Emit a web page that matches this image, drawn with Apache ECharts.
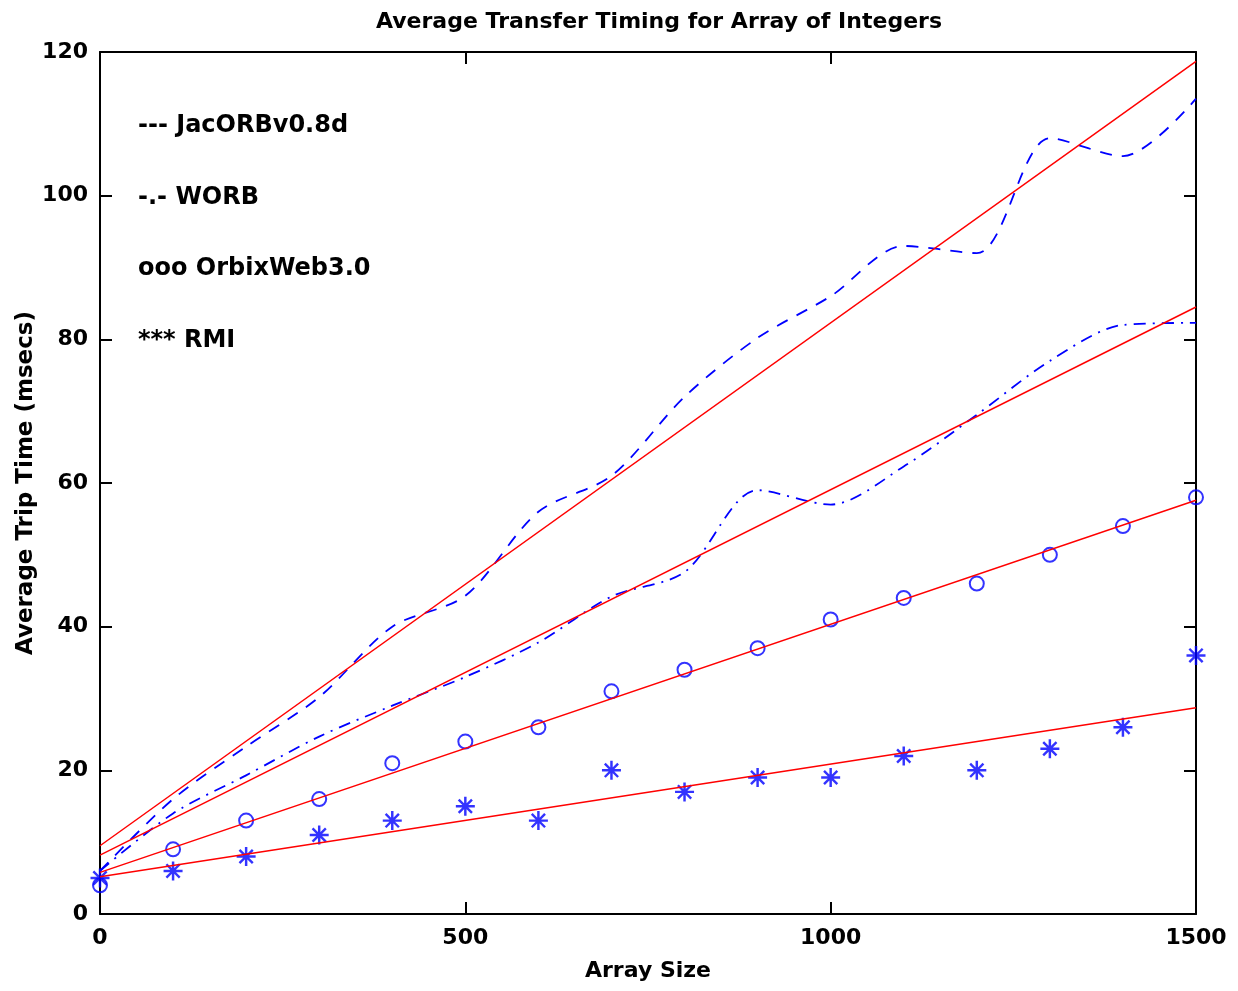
<!DOCTYPE html>
<html>
<head>
<meta charset="utf-8">
<title>Average Transfer Timing for Array of Integers</title>
<script src="https://cdn.jsdelivr.net/npm/echarts@6/dist/echarts.min.js"></script>
<style>
    html, body { margin: 0; padding: 0; background: #fff; }
    #timing { width: 1238px; height: 991px; }
</style>
</head>
<body>
<div id="timing"></div>
<script>
// array sizes (x) and average trip times in msecs
var sizes = [0, 100, 200, 300, 400, 500, 600, 700, 800, 900, 1000, 1100, 1200, 1300, 1400, 1500];
var jacorb = [6, 16, 23.3, 30.2, 40, 44.3, 56, 61, 72, 80.2, 86, 93, 92, 108, 105.5, 113.5];
var worb = [6, 14, 19.3, 24.7, 29, 33, 37.8, 44.2, 47.6, 59, 57, 62.3, 69.5, 77, 82, 82.3];
var orbix = [4, 9, 13, 16, 21, 24, 26, 31, 34, 37, 41, 44, 46, 50, 54, 58];
var rmi = [5, 6, 8, 11, 13, 15, 13, 20, 17, 19, 19, 22, 20, 23, 26, 36];

// ends of the red fitted lines
var fitX = [0, 1500];
var jacorbFit = [9.5, 118.7];
var worbFit = [8.2, 84.5];
var orbixFit = [5.8, 57.6];
var rmiFit = [5.2, 28.7];

var xTicks = [0, 500, 1000, 1500];
var yTicks = [0, 20, 40, 60, 80, 100, 120];

var legendLines = ['--- JacORBv0.8d', '-.- WORB', 'ooo OrbixWeb3.0', '*** RMI'];

function pairs(xs, ys) {
    var data = [];
    for (var i = 0; i < xs.length; i++) {
        data.push([xs[i], ys[i]]);
    }
    return data;
}

function fitSeries(ys) {
    return {
        type: 'line',
        data: pairs(fitX, ys),
        showSymbol: false,
        silent: true,
        z: 3,
        lineStyle: { color: '#ff0000', width: 1.5 }
    };
}

// asterisk marker: horizontal, vertical and two diagonal bars
var star = 'path://M0 8.7L20 8.7L20 11.3L0 11.3Z M8.7 0L11.3 0L11.3 20L8.7 20Z ' +
    'M3.9 2.1L17.9 16.1L16.1 17.9L2.1 3.9Z M16.1 2.1L17.9 3.9L3.9 17.9L2.1 16.1Z';

var font = 'DejaVu Sans';
var myChart = echarts.init(document.getElementById('timing'));

var legendTexts = [];
for (var i = 0; i < legendLines.length; i++) {
    legendTexts.push({
        type: 'text',
        left: 138,
        top: 114 + i * 71.5,
        style: {
            text: legendLines[i],
            fontFamily: font,
            fontSize: 24,
            fontWeight: 'bold',
            fill: '#000'
        }
    });
}

var boxAxis = {
    axisLine: { show: true, onZero: false, lineStyle: { color: '#000', width: 2 } },
    axisTick: { show: true, inside: true, length: 12, lineStyle: { color: '#000', width: 2 } },
    axisLabel: { show: false },
    splitLine: { show: false }
};

var option = {
    backgroundColor: '#fff',
    animation: false,
    title: {
        text: 'Average Transfer Timing for Array of Integers',
        left: 654,
        textAlign: 'center',
        top: 6,
        textStyle: {
            fontFamily: font,
            fontSize: 22,
            fontWeight: 'bold',
            color: '#000'
        }
    },
    graphic: legendTexts,
    grid: { left: 100, right: 42, top: 52, bottom: 77 },
    xAxis: [
        {
            type: 'value',
            min: 0,
            max: 1500,
            interval: 500,
            name: 'Array Size',
            nameLocation: 'middle',
            nameGap: 46,
            nameTextStyle: { fontFamily: font, fontSize: 22, fontWeight: 'bold', color: '#000' },
            axisLine: { show: true, onZero: false, lineStyle: { color: '#000', width: 2 } },
            axisTick: { show: true, inside: true, length: 12, lineStyle: { color: '#000', width: 2 } },
            axisLabel: {
                margin: 13,
                fontFamily: font,
                fontSize: 22,
                fontWeight: 'bold',
                color: '#000',
                formatter: function (v) { return xTicks.indexOf(v) >= 0 ? String(v) : ''; }
            },
            splitLine: { show: false }
        },
        Object.assign({ type: 'value', position: 'top', min: 0, max: 1500, interval: 500 }, boxAxis)
    ],
    yAxis: [
        {
            type: 'value',
            min: 0,
            max: 120,
            interval: 20,
            name: 'Average Trip Time (msecs)',
            nameLocation: 'middle',
            nameGap: 62,
            nameMoveOverlap: false,
            nameTextStyle: { fontFamily: font, fontSize: 23, fontWeight: 'bold', color: '#000' },
            axisLine: { show: true, onZero: false, lineStyle: { color: '#000', width: 2 } },
            axisTick: { show: true, inside: true, length: 12, lineStyle: { color: '#000', width: 2 } },
            axisLabel: {
                margin: 12,
                fontFamily: font,
                fontSize: 22,
                fontWeight: 'bold',
                color: '#000',
                formatter: function (v) { return yTicks.indexOf(v) >= 0 ? String(v) : ''; }
            },
            splitLine: { show: false }
        },
        Object.assign({ type: 'value', position: 'right', min: 0, max: 120, interval: 20 }, boxAxis)
    ],
    series: [
        {
            name: 'JacORBv0.8d',
            type: 'line',
            data: pairs(sizes, jacorb),
            smooth: 0.3,
            showSymbol: false,
            z: 2,
            lineStyle: { color: '#0000ff', width: 1.8, type: [12, 10] }
        },
        {
            name: 'WORB',
            type: 'line',
            data: pairs(sizes, worb),
            smooth: 0.3,
            showSymbol: false,
            z: 2,
            lineStyle: { color: '#0000ff', width: 1.8, type: [12, 7, 2, 7] }
        },
        {
            name: 'OrbixWeb3.0',
            type: 'scatter',
            data: pairs(sizes, orbix),
            symbol: 'circle',
            symbolSize: 14,
            z: 2,
            itemStyle: { color: 'rgba(0,0,0,0)', borderColor: '#0000ff', borderWidth: 2 }
        },
        {
            name: 'RMI',
            type: 'scatter',
            data: pairs(sizes, rmi),
            symbol: star,
            symbolSize: 19,
            z: 2,
            itemStyle: { color: '#0000ff' }
        },
        fitSeries(jacorbFit),
        fitSeries(worbFit),
        fitSeries(orbixFit),
        fitSeries(rmiFit)
    ]
};

myChart.setOption(option);
</script>
</body>
</html>
